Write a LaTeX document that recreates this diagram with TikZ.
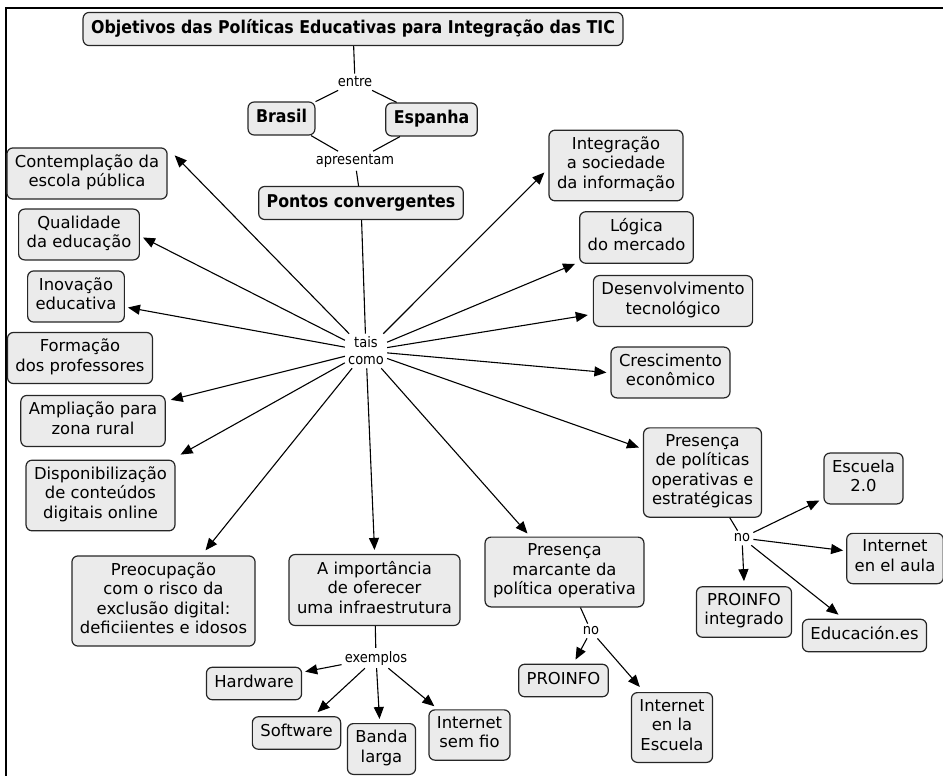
\documentclass[tikz,border=0pt]{standalone}
\usepackage{fontspec}
\setmainfont{DejaVu Sans}
\newfontfamily\condfont{DejaVu Sans Condensed}
\usetikzlibrary{arrows.meta}
\definecolor{boxcinza}{HTML}{EBEBEB}
\tikzset{
  conceito/.style={draw=black!85, fill=boxcinza, rounded corners=6pt, line width=1.2pt,
    align=center, inner xsep=8pt, inner ysep=6.5pt,
    font=\fontsize{16.4}{19.5}\selectfont,
    execute at begin node=\strut, execute at end node=\strut},
  titulo/.style={conceito, font=\condfont\bfseries\fontsize{17.6}{20}\selectfont},
  ligacao/.style={inner sep=3pt, align=center, font=\condfont\fontsize{14.5}{17}\selectfont},
  seta/.style={-{Triangle[length=12pt,width=10pt]}, line width=1.1pt},
  linha/.style={line width=1.1pt}
}

\begin{document}
\begin{tikzpicture}[x=1pt,y=-1pt]
\useasboundingbox (0,0) rectangle (943,776);
\draw[line width=2.5pt] (6,776) -- (6,8) -- (943,8);

% topo
\node[titulo] (titulo) at (353,29) {Objetivos das Políticas Educativas para Integração das TIC};
\node[ligacao] (entre) at (355,82) {entre};
\node[titulo] (brasil) at (281.5,118.5) {Brasil};
\node[titulo] (espanha) at (431.5,119.5) {Espanha};
\node[ligacao] (apresentam) at (355,161) {apresentam};
\node[titulo] (pontos) at (361,203) {Pontos convergentes};
\node[ligacao] (tais) at (366,351) {tais\\como};

% esquerda
\node[conceito] (contemp) at (87,173.5) {Contemplação da\\escola pública};
\node[conceito] (qual) at (79,234.5) {Qualidade\\da educação};
\node[conceito] (inov) at (76,296.5) {Inovação\\educativa};
\node[conceito] (form) at (80,358) {Formação\\dos professores};
\node[conceito] (ampl) at (93,421) {Ampliação para\\zona rural};
\node[conceito] (disp) at (100.5,495.5) {Disponibilização\\de conteúdos\\digitais online};
\node[conceito] (preoc) at (163.5,601) {Preocupação\\com o risco da\\exclusão digital:\\deficiientes e idosos};

% baixo
\node[conceito] (imp) at (374.5,590) {A importância\\de oferecer\\uma infraestrutura};
\node[ligacao] (exemplos) at (376,658) {exemplos};
\node[conceito] (hard) at (254,683.5) {Hardware};
\node[conceito] (soft) at (296.5,733) {Software};
\node[conceito] (banda) at (381.5,749) {Banda\\larga};
\node[conceito] (semfio) at (469.5,735) {Internet\\sem fio};
\node[conceito] (marc) at (564.5,572) {Presença\\marcante da\\política operativa};
\node[ligacao] (no1) at (591,631) {no};
\node[conceito] (proinfo) at (563.5,680.5) {PROINFO};
\node[conceito] (escuela) at (672,727.5) {Internet\\en la\\Escuela};

% direita
\node[conceito] (integ) at (616,165.5) {Integração\\a sociedade\\da informação};
\node[conceito] (logica) at (636.5,237.5) {Lógica\\do mercado};
\node[conceito] (desenv) at (673,301) {Desenvolvimento\\tecnológico};
\node[conceito] (cresc) at (670.5,372.5) {Crescimento\\econômico};
\node[conceito] (polit) at (702.5,472.5) {Presença\\de políticas\\operativas e\\estratégicas};
\node[ligacao] (no2) at (742,538) {no};
\node[conceito] (esc20) at (863.5,478.5) {Escuela\\2.0};
\node[conceito] (aula) at (895,558.5) {Internet\\en el aula};
\node[conceito] (proint) at (744,612) {PROINFO\\integrado};
\node[conceito] (educ) at (864.5,635.5) {Educación.es};

% ligacoes sem seta
\draw[linha] (titulo) -- (entre);
\draw[linha] (entre) -- (brasil);
\draw[linha] (entre) -- (espanha);
\draw[linha] (brasil) -- (apresentam);
\draw[linha] (espanha) -- (apresentam);
\draw[linha] (apresentam) -- (pontos);
\draw[linha] (pontos) -- (tais);
\draw[linha] (imp) -- (exemplos);
\draw[linha] (marc) -- (no1);
\draw[linha] (polit) -- (no2);

% tais como
\draw[seta] (tais) -- ([xshift=7pt,yshift=-8pt]contemp.north east);
\draw[seta] (tais) -- ([xshift=3pt,yshift=-3pt]qual.east);
\draw[seta] (tais) -- ([xshift=3pt,yshift=-11pt]inov.east);
\draw[seta] (tais) -- ([xshift=5pt,yshift=-5pt]ampl.north east);
\draw[seta] (tais) -- ([xshift=5pt,yshift=5pt]disp.north east);
\draw[seta] (tais) -- ([xshift=42pt,yshift=5pt]preoc.north);
\draw[seta] (tais) -- ([yshift=4pt]imp.north);
\draw[seta] (tais) -- ([xshift=-37pt,yshift=3pt]marc.north);
\draw[seta] (tais) -- ([xshift=-4pt,yshift=25pt]polit.west);
\draw[seta] (tais) -- ([xshift=-4pt]cresc.west);
\draw[seta] (tais) -- ([xshift=-5pt,yshift=-14pt]desenv.west);
\draw[seta] (tais) -- ([xshift=-4pt]logica.south west);
\draw[seta] (tais) -- ([xshift=-4pt,yshift=-7pt]integ.west);

% exemplos
\draw[seta] (exemplos) -- ([xshift=3pt,yshift=-5pt]hard.north east);
\draw[seta] (exemplos) -- ([xshift=21pt,yshift=4pt]soft.north);
\draw[seta] (exemplos) -- ([xshift=-2pt,yshift=4pt]banda.north);
\draw[seta] (exemplos) -- ([xshift=6pt,yshift=3pt]semfio.north west);

% no
\draw[seta] (no1) -- ([xshift=12pt,yshift=4pt]proinfo.north);
\draw[seta] (no1) -- ([xshift=9pt,yshift=5pt]escuela.north west);
\draw[seta] (no2) -- ([xshift=-4pt,yshift=4pt]esc20.south west);
\draw[seta] (no2) -- ([xshift=-3pt,yshift=8pt]aula.west);
\draw[seta] (no2) -- ([yshift=5pt]proint.north);
\draw[seta] (no2) -- ([xshift=-26pt,yshift=4pt]educ.north);
\end{tikzpicture}
\end{document}
